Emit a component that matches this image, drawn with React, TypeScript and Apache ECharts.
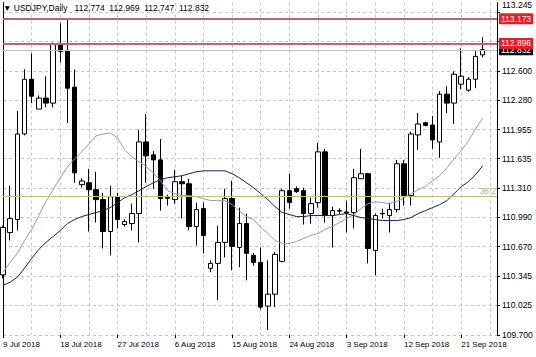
import React, { useEffect, useRef } from 'react';
import * as echarts from 'echarts';

const symbolName = 'USDJPY,Daily';

const dates = [
  '9 Jul 2018', '10 Jul 2018', '11 Jul 2018', '12 Jul 2018', '13 Jul 2018', '15 Jul 2018', '16 Jul 2018', '17 Jul 2018',
  '18 Jul 2018', '19 Jul 2018', '20 Jul 2018', '22 Jul 2018', '23 Jul 2018', '24 Jul 2018', '25 Jul 2018', '26 Jul 2018',
  '27 Jul 2018', '29 Jul 2018', '30 Jul 2018', '31 Jul 2018', '1 Aug 2018', '2 Aug 2018', '3 Aug 2018', '5 Aug 2018',
  '6 Aug 2018', '7 Aug 2018', '8 Aug 2018', '9 Aug 2018', '10 Aug 2018', '12 Aug 2018', '13 Aug 2018', '14 Aug 2018',
  '15 Aug 2018', '16 Aug 2018', '17 Aug 2018', '19 Aug 2018', '20 Aug 2018', '21 Aug 2018', '22 Aug 2018', '23 Aug 2018',
  '24 Aug 2018', '26 Aug 2018', '27 Aug 2018', '28 Aug 2018', '29 Aug 2018', '30 Aug 2018', '31 Aug 2018', '2 Sep 2018',
  '3 Sep 2018', '4 Sep 2018', '5 Sep 2018', '6 Sep 2018', '7 Sep 2018', '9 Sep 2018', '10 Sep 2018', '11 Sep 2018',
  '12 Sep 2018', '13 Sep 2018', '14 Sep 2018', '16 Sep 2018', '17 Sep 2018', '18 Sep 2018', '19 Sep 2018', '20 Sep 2018',
  '21 Sep 2018', '23 Sep 2018', '24 Sep 2018', '25 Sep 2018',
];
// empty slots on the right (chart shift)
const futureSlots = ['', ''];

const opens = [
  110.36, 110.825, 110.967, 111.906, 112.507, 112.18, 112.3, 112.245,
  112.879, 112.813, 112.42, 111.35, 111.371, 111.295, 111.186, 110.836,
  111.218, 110.912, 110.923, 111.033, 111.819, 111.677, 111.622, 111.21,
  111.186, 111.382, 111.36, 110.89, 111.087, 110.432, 110.486, 110.716,
  111.197, 110.661, 110.923, 110.574, 110.497, 110.017, 110.148, 110.508,
  111.284, 111.306, 111.284, 111.033, 111.153, 111.71, 111.011, 111.065,
  111.05, 111.044, 111.415, 111.47, 110.628, 111.035, 111.011, 111.076,
  111.579, 111.23, 111.896, 112.03, 112.005, 111.819, 112.343, 112.245,
  112.453, 112.387, 112.507, 112.774,
];
const closes = [
  110.88, 110.978, 111.906, 112.507, 112.321, 112.3, 112.245, 112.889,
  112.813, 112.409, 111.48, 111.39, 111.295, 111.186, 110.836, 111.218,
  110.967, 110.945, 111.033, 111.819, 111.666, 111.622, 111.197, 111.2,
  111.382, 111.36, 110.89, 111.076, 110.792, 110.486, 110.716, 111.197,
  110.672, 110.923, 110.596, 110.497, 110.006, 110.148, 110.585, 111.284,
  111.153, 111.273, 111.033, 111.142, 111.71, 111.011, 111.065, 111.06,
  111.04, 111.426, 111.47, 110.65, 111.011, 111.03, 111.076, 111.579,
  111.23, 111.906, 112.016, 112.0, 111.841, 112.343, 112.245, 112.562,
  112.54, 112.507, 112.758, 112.832,
];
const lows = [
  110.32, 110.738, 110.847, 111.89, 112.245, 112.18, 112.2, 112.2,
  112.69, 112.027, 111.37, 111.32, 110.836, 110.934, 110.65, 110.574,
  110.869, 110.89, 110.847, 110.716, 111.371, 111.306, 111.065, 111.12,
  111.142, 110.978, 110.847, 110.683, 110.596, 110.39, 110.082, 110.552,
  110.41, 110.443, 110.3, 110.46, 109.98, 109.755, 110.006, 110.497,
  111.087, 111.26, 110.912, 110.923, 111.098, 110.934, 110.661, 111.03,
  110.825, 110.869, 111.415, 110.486, 110.355, 110.978, 110.825, 111.044,
  111.12, 111.12, 111.73, 111.99, 111.743, 111.644, 112.136, 112.016,
  112.398, 112.37, 112.409, 112.747,
];
const highs = [
  110.9, 111.338, 112.158, 112.616, 112.791, 112.33, 112.54, 112.91,
  113.12, 113.173, 112.616, 111.42, 111.524, 111.49, 111.26, 111.338,
  111.26, 110.97, 111.142, 111.95, 112.125, 111.72, 111.85, 111.24,
  111.513, 111.447, 111.415, 111.153, 111.153, 110.52, 110.9, 111.306,
  111.393, 111.098, 111.033, 110.6, 110.661, 110.519, 110.61, 111.306,
  111.47, 111.33, 111.317, 111.207, 111.808, 111.742, 111.109, 111.09,
  111.175, 111.524, 111.742, 111.48, 111.033, 111.087, 111.153, 111.622,
  111.622, 111.93, 112.136, 112.04, 112.103, 112.376, 112.43, 112.594,
  112.846, 112.53, 112.824, 112.969,
];

const maFast = [
  110.388, 110.497, 110.596, 110.738, 110.858, 111.011, 111.164, 111.295,
  111.426, 111.546, 111.633, 111.71, 111.797, 111.885, 111.906, 111.917,
  111.863, 111.732, 111.655, 111.601, 111.546, 111.48, 111.393, 111.284,
  111.251, 111.229, 111.229, 111.218, 111.196, 111.175, 111.175, 111.175,
  111.131, 111.065, 111.0, 110.967, 110.88, 110.814, 110.738, 110.705,
  110.705, 110.727, 110.76, 110.792, 110.814, 110.858, 110.891, 110.934,
  110.978, 111.022, 111.087, 111.142, 111.164, 111.153, 111.142, 111.164,
  111.207, 111.251, 111.295, 111.328, 111.393, 111.448, 111.535, 111.633,
  111.721, 111.83, 111.961, 112.081,
];
const maSlow = [
  110.246, 110.279, 110.334, 110.432, 110.541, 110.639, 110.716, 110.781,
  110.847, 110.923, 110.967, 111.0, 111.022, 111.044, 111.065, 111.098,
  111.153, 111.207, 111.24, 111.284, 111.328, 111.371, 111.404, 111.426,
  111.437, 111.448, 111.47, 111.491, 111.502, 111.502, 111.502, 111.502,
  111.47, 111.426, 111.371, 111.317, 111.251, 111.186, 111.109, 111.044,
  111.022, 111.0, 111.0, 111.011, 111.011, 111.011, 111.011, 111.022,
  111.033, 111.011, 110.989, 110.978, 110.967, 110.956, 110.956, 110.956,
  110.967, 110.989, 111.033, 111.065, 111.098, 111.131, 111.175, 111.251,
  111.328, 111.382, 111.459, 111.557,
];

const priceTicks = [109.7, 110.025, 110.345, 110.67, 110.99, 111.31, 111.635, 111.955, 112.28, 112.6, 112.92, 113.245];
const priceLabels = [109.7, 110.025, 110.345, 110.67, 110.99, 111.31, 111.635, 111.955, 112.28, 112.6, 113.245];

const yMin = 109.7;
const yMax = 113.348;

const levelHigh = 113.173;
const levelMid = 112.896;
const bidPrice = 112.832;
const fibLevel = 111.222;
const fibName = '38.2';

const FONT = '"Liberation Sans", Arial, sans-serif';

export default function App() {
  const ref = useRef<HTMLDivElement>(null);

  useEffect(() => {
    document.body.style.margin = '0';
    if (!ref.current) return;
    const chart = echarts.init(ref.current, undefined, { renderer: 'svg' });

    const last = opens.length - 1;
    const candles = opens.map((o, i) => [o, closes[i], lows[i], highs[i]]);
    const cats = [...dates, ...futureSlots];
    const f3 = (v: number) => v.toFixed(3);
    const topLabel = priceLabels[priceLabels.length - 1];

    const markLabel = (text: string, bg: string) => ({
      show: true,
      position: 'end',
      formatter: text,
      color: '#fff',
      backgroundColor: bg,
      padding: [1, 2, 1, 2],
      distance: 2,
      fontSize: 8.5,
      fontFamily: FONT,
    });

    const option: any = {
      animation: false,
      backgroundColor: '#ffffff',
      textStyle: { fontFamily: FONT },
      title: {
        text: `▼ ${symbolName}   ${f3(opens[last])}  ${f3(highs[last])}  ${f3(lows[last])}  ${f3(closes[last])}`,
        left: 3,
        top: 3,
        padding: 0,
        textStyle: { fontSize: 8.5, fontWeight: 'normal', color: '#000', fontFamily: FONT },
      },
      grid: { left: 3, right: 39, top: 1, bottom: 22 },
      xAxis: {
        type: 'category',
        data: cats,
        boundaryGap: false,
        axisLine: { show: false },
        axisTick: { show: true, interval: 7, length: 3, lineStyle: { color: '#000' } },
        axisLabel: { interval: 7, align: 'left', margin: 5, fontSize: 8, color: '#000', fontFamily: FONT },
        splitLine: { show: true, interval: 3, lineStyle: { color: '#c4c4c4', type: [3, 3], width: 1 } },
      },
      yAxis: [
        {
          type: 'value',
          position: 'right',
          min: yMin,
          max: yMax,
          axisLine: { show: true, lineStyle: { color: '#000' } },
          axisTick: { show: true, length: 3, customValues: priceTicks, lineStyle: { color: '#000' } },
          axisLabel: {
            customValues: priceLabels,
            formatter: (v: number) => (v === topLabel ? `{top|${v.toFixed(3)}}` : v.toFixed(3)),
            rich: { top: { fontSize: 8.5, color: '#000', padding: [0, 0, 15, 0], fontFamily: FONT } },
            fontSize: 8.5,
            margin: 5,
            color: '#000',
            fontFamily: FONT,
          },
          splitLine: { show: true, lineStyle: { color: '#c4c4c4', type: [3, 3], width: 1 } },
        },
        {
          type: 'value',
          position: 'left',
          min: yMin,
          max: yMax,
          axisLine: { show: true, lineStyle: { color: '#000' } },
          axisTick: { show: false },
          axisLabel: { show: false },
          splitLine: { show: false },
        },
      ],
      series: [
        {
          type: 'candlestick',
          data: candles,
          yAxisIndex: 0,
          barWidth: 5,
          itemStyle: {
            color: '#ffffff',
            color0: '#000000',
            borderColor: '#000000',
            borderColor0: '#000000',
            borderWidth: 1,
          },
          markLine: {
            silent: true,
            symbol: ['none', 'none'],
            animation: false,
            data: [
              {
                yAxis: fibLevel,
                lineStyle: { color: '#c2bd82', width: 1, type: 'solid' },
                label: {
                  show: true,
                  position: 'insideEndTop',
                  formatter: fibName,
                  color: '#b8ac6c',
                  fontSize: 8.5,
                  distance: [1, 1],
                  fontFamily: FONT,
                },
              },
              {
                yAxis: bidPrice,
                lineStyle: { color: '#bdbdbd', width: 1, type: 'solid' },
                label: markLabel(f3(bidPrice), '#000'),
              },
              {
                yAxis: levelMid,
                lineStyle: { color: '#b06a74', width: 2, type: 'solid' },
                label: markLabel(f3(levelMid), '#ec1c24'),
              },
              {
                yAxis: levelHigh,
                lineStyle: { color: '#b06a74', width: 2, type: 'solid' },
                label: markLabel(f3(levelHigh), '#ec1c24'),
              },
            ],
          },
        },
        {
          type: 'line',
          data: maFast,
          yAxisIndex: 0,
          showSymbol: false,
          symbol: 'none',
          lineStyle: { color: '#86a69c', width: 1 },
          z: 3,
        },
        {
          type: 'line',
          data: maSlow,
          yAxisIndex: 0,
          showSymbol: false,
          symbol: 'none',
          lineStyle: { color: '#1e1e5c', width: 1 },
          z: 3,
        },
      ],
    };

    chart.setOption(option);
    return () => chart.dispose();
  }, []);

  return <div ref={ref} style={{ width: 536, height: 357 }} />;
}
